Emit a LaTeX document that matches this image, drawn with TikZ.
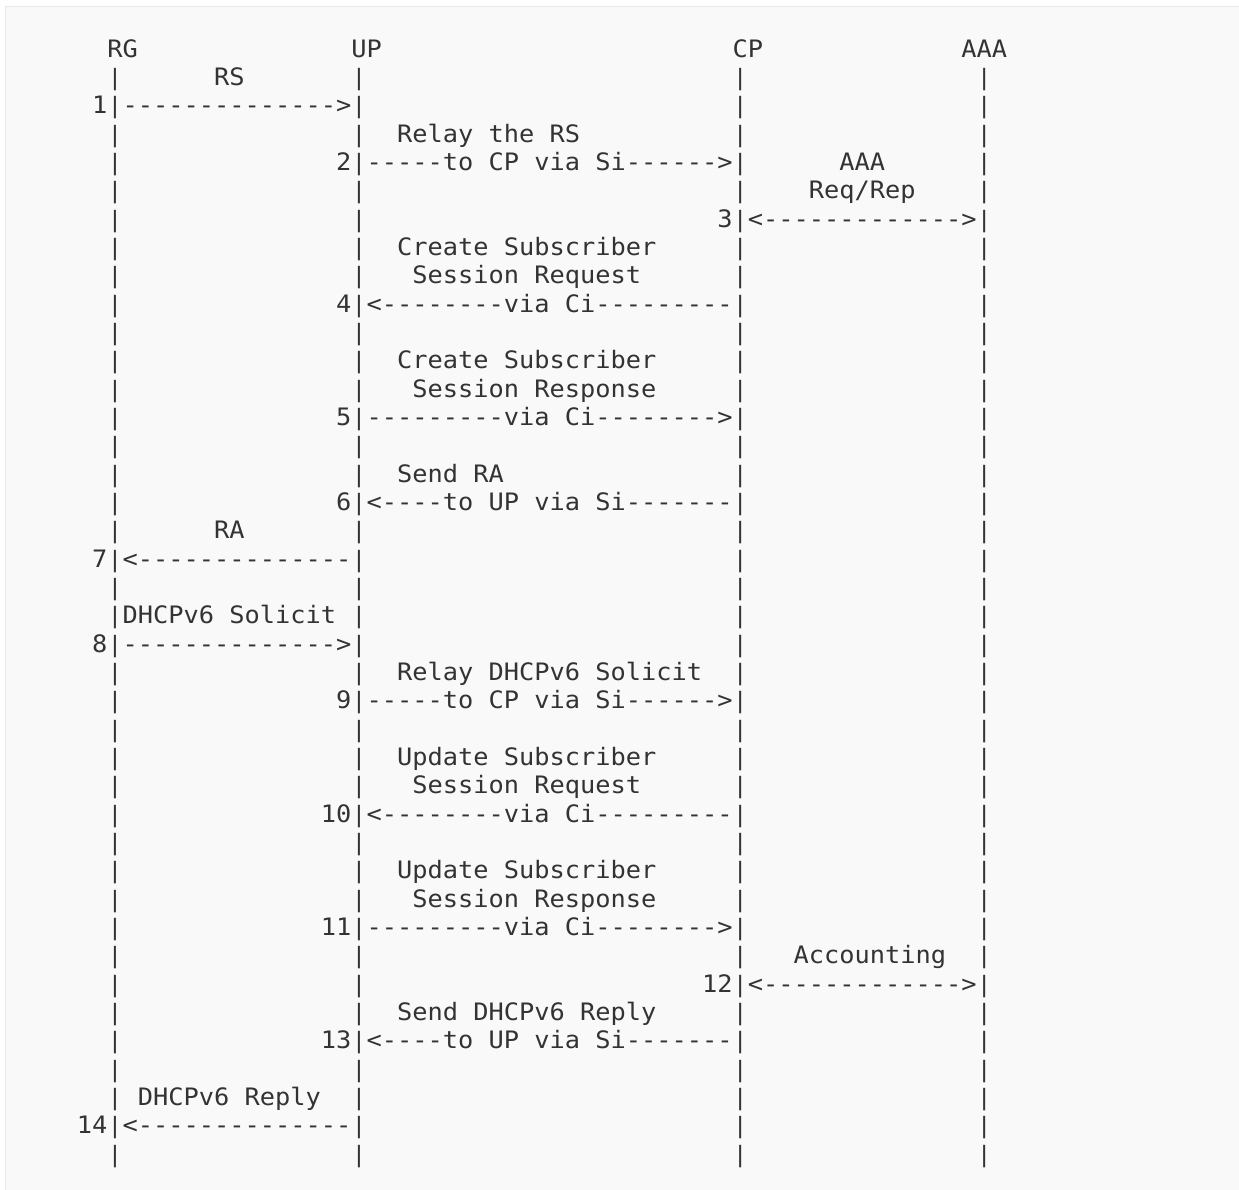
\documentclass[tikz,border=0pt]{standalone}
\usepackage{fontspec}
\setmonofont[FakeStretch=1.0554]{DejaVu Sans Mono}
\definecolor{ink}{HTML}{333333}
\definecolor{boxfill}{HTML}{F9F9F9}
\definecolor{boxline}{HTML}{EAEAEA}
\newcommand\frag[4]{\node[txt] (#4) at ({107.4+(#2)*15.25},{1190-57.3-(#1-1)*28.33}) {#3};}
\begin{document}
\begin{tikzpicture}[x=1pt,y=1pt,
  txt/.style={anchor=base west, inner sep=0pt, outer sep=0pt, text=ink,
              font=\ttfamily\fontsize{24}{28}\selectfont},
  barglyph/.style={anchor=base, inner sep=0pt, outer sep=0pt, text=ink,
              font=\ttfamily\fontsize{22.5}{28}\selectfont}]
\useasboundingbox (0,0) rectangle (1239,1190);
\fill[white] (0,0) rectangle (1239,1190);
\filldraw[fill=boxfill, draw=boxline, line width=1.5pt] (5.5,1183.5) rectangle (1260,-20);
% lifelines
\foreach \r in {2,...,40}{
  \foreach \c in {0,16,41,57}{
    \node[barglyph] (bar-\r-\c) at ({115.025+\c*15.25},{1190-57.3-(\r-1)*28.33}) {|};
  }
}
% headers
\frag{1}{0}{RG}{rg}
\frag{1}{16}{UP}{up}
\frag{1}{41}{CP}{cp}
\frag{1}{56}{AAA}{aaa}
% 1
\frag{2}{7}{RS}{t1}
\frag{3}{-1}{1}{n1}
\frag{3}{1}{-------------->}{a1}
% 2
\frag{4}{19}{Relay the RS}{t2}
\frag{5}{15}{2}{n2}
\frag{5}{17}{-----to CP via Si------>}{a2}
% 3
\frag{5}{48}{AAA}{t3a}
\frag{6}{46}{Req/Rep}{t3b}
\frag{7}{40}{3}{n3}
\frag{7}{42}{<------------->}{a3}
% 4
\frag{8}{19}{Create Subscriber}{t4a}
\frag{9}{20}{Session Request}{t4b}
\frag{10}{15}{4}{n4}
\frag{10}{17}{<--------via Ci---------}{a4}
% 5
\frag{12}{19}{Create Subscriber}{t5a}
\frag{13}{20}{Session Response}{t5b}
\frag{14}{15}{5}{n5}
\frag{14}{17}{---------via Ci-------->}{a5}
% 6
\frag{16}{19}{Send RA}{t6}
\frag{17}{15}{6}{n6}
\frag{17}{17}{<----to UP via Si-------}{a6}
% 7
\frag{18}{7}{RA}{t7}
\frag{19}{-1}{7}{n7}
\frag{19}{1}{<--------------}{a7}
% 8
\frag{21}{1}{DHCPv6 Solicit}{t8}
\frag{22}{-1}{8}{n8}
\frag{22}{1}{-------------->}{a8}
% 9
\frag{23}{19}{Relay DHCPv6 Solicit}{t9}
\frag{24}{15}{9}{n9}
\frag{24}{17}{-----to CP via Si------>}{a9}
% 10
\frag{26}{19}{Update Subscriber}{t10a}
\frag{27}{20}{Session Request}{t10b}
\frag{28}{14}{10}{n10}
\frag{28}{17}{<--------via Ci---------}{a10}
% 11
\frag{30}{19}{Update Subscriber}{t11a}
\frag{31}{20}{Session Response}{t11b}
\frag{32}{14}{11}{n11}
\frag{32}{17}{---------via Ci-------->}{a11}
% 12
\frag{33}{45}{Accounting}{t12}
\frag{34}{39}{12}{n12}
\frag{34}{42}{<------------->}{a12}
% 13
\frag{35}{19}{Send DHCPv6 Reply}{t13}
\frag{36}{14}{13}{n13}
\frag{36}{17}{<----to UP via Si-------}{a13}
% 14
\frag{38}{2}{DHCPv6 Reply}{t14}
\frag{39}{-2}{14}{n14}
\frag{39}{1}{<--------------}{a14}
\end{tikzpicture}
\end{document}
